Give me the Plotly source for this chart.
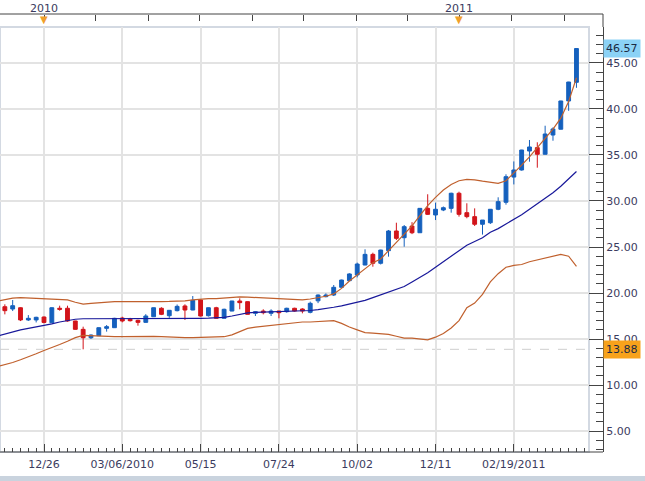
import pandas as pd
import plotly.graph_objects as go

# ---------------- data (weekly candles) ----------------
first_week = "2009-11-21"
opens = [18.51, 18.26, 18.40, 17.07, 17.07, 17.39, 16.77, 18.34, 18.34, 16.96,
         16.05, 15.14, 15.36, 16.16, 16.23, 17.28, 17.14, 17.03, 16.81, 17.42,
         18.34, 17.53, 18.08, 18.59, 18.15, 19.24, 17.53, 18.40, 17.25, 18.04,
         19.13, 19.06, 17.79, 18.04, 17.79, 18.04, 17.97, 18.34, 18.26, 17.90,
         19.15, 19.60, 19.78, 20.62, 21.34, 21.96, 23.04, 24.20, 23.23, 24.60,
         26.74, 26.01, 27.28, 26.55, 29.20, 28.48, 29.02, 29.20, 30.84, 28.73,
         28.30, 27.47, 27.64, 29.10, 29.86, 32.60, 33.37, 35.43, 35.80, 35.08,
         37.17, 37.80, 40.87, 42.90]
highs = [18.77, 19.24, 18.45, 17.60, 17.42, 17.45, 18.45, 18.62, 18.62, 16.98,
         16.34, 15.50, 16.26, 16.52, 17.30, 17.42, 17.30, 17.10, 17.70, 18.42,
         18.45, 18.15, 18.75, 18.77, 19.67, 19.35, 18.42, 18.50, 18.30, 19.15,
         19.42, 19.08, 18.04, 18.23, 18.23, 18.06, 18.40, 18.40, 18.34, 19.06,
         19.85, 19.96, 20.87, 21.45, 22.15, 23.30, 24.75, 24.38, 24.70, 26.85,
         27.64, 27.39, 27.70, 29.22, 30.73, 29.82, 29.40, 30.90, 31.01, 29.75,
         29.20, 27.93, 29.12, 30.40, 32.90, 34.30, 35.56, 36.63, 36.38, 38.18,
         38.00, 40.89, 42.95, 46.57]
lows = [17.68, 18.04, 16.95, 16.96, 16.80, 16.70, 16.72, 18.08, 16.88, 16.02,
        13.88, 15.00, 15.34, 15.80, 16.21, 16.81, 16.90, 16.45, 16.79, 17.40,
        17.60, 17.30, 18.00, 17.07, 18.13, 17.45, 17.45, 17.23, 17.23, 18.02,
        18.23, 17.66, 17.50, 17.68, 17.50, 17.25, 17.86, 17.97, 17.79, 17.79,
        18.90, 19.53, 19.67, 20.60, 21.30, 21.70, 23.02, 22.86, 23.10, 23.95,
        25.76, 25.03, 26.40, 26.53, 28.48, 27.93, 28.90, 28.73, 28.30, 28.12,
        27.28, 26.35, 27.50, 29.00, 29.60, 31.80, 33.30, 34.27, 33.62, 35.06,
        36.55, 37.78, 39.80, 42.30]
closes = [18.08, 18.62, 17.07, 17.25, 17.36, 16.80, 18.40, 18.23, 16.96, 16.05,
          15.14, 15.43, 16.23, 16.34, 17.25, 16.96, 16.99, 16.81, 17.50, 18.40,
          17.68, 18.12, 18.55, 18.15, 19.20, 17.50, 18.40, 17.25, 18.23, 19.13,
          18.95, 17.68, 17.97, 17.86, 18.04, 17.86, 18.34, 18.04, 18.04, 18.88,
          19.78, 19.78, 20.62, 21.41, 22.07, 23.15, 24.20, 23.23, 24.67, 26.74,
          25.94, 27.21, 26.55, 29.20, 28.55, 29.10, 29.27, 30.84, 28.55, 28.30,
          27.47, 27.93, 29.10, 29.93, 32.64, 33.37, 35.54, 35.87, 35.08, 37.28,
          37.83, 40.87, 42.93, 46.57]

# ---------------- Bollinger bands ----------------
band_first_week = "2009-11-14"
upper_band = [19.10, 19.30, 19.45, 19.50, 19.45, 19.40, 19.35, 19.30, 19.28, 19.25,
              19.00, 18.80, 18.88, 18.95, 19.05, 19.06, 19.06, 19.05, 19.05, 19.05,
              19.06, 19.07, 19.08, 19.10, 19.15, 19.25, 19.35, 19.38, 19.40, 19.45,
              19.55, 19.58, 19.55, 19.50, 19.45, 19.40, 19.35, 19.30, 19.25, 19.25,
              19.35, 19.50, 19.65, 19.90, 20.50, 21.30, 22.00, 22.70, 23.30, 23.70,
              24.60, 25.40, 26.30, 27.30, 28.40, 29.50, 30.40, 31.20, 31.80, 32.20,
              32.35, 32.30, 32.15, 32.00, 31.92, 32.20, 33.00, 33.90, 34.80, 35.80,
              36.80, 37.80, 39.00, 40.80, 43.40]
middle_band = [15.30, 15.55, 15.80, 16.00, 16.15, 16.30, 16.45, 16.65, 16.85, 17.00,
               17.15, 17.20, 17.20, 17.20, 17.18, 17.17, 17.17, 17.18, 17.18, 17.20,
               17.20, 17.22, 17.22, 17.23, 17.24, 17.25, 17.25, 17.27, 17.30, 17.35,
               17.50, 17.70, 17.85, 17.90, 17.92, 17.95, 17.95, 17.97, 18.00, 18.05,
               18.10, 18.20, 18.30, 18.45, 18.60, 18.80, 19.00, 19.20, 19.50, 19.80,
               20.10, 20.35, 20.70, 21.20, 21.70, 22.20, 22.80, 23.40, 24.00, 24.60,
               25.20, 25.60, 26.00, 26.60, 27.00, 27.50, 28.00, 28.50, 29.10, 29.70,
               30.30, 30.90, 31.60, 32.40, 33.20]
lower_band = [12.00, 12.20, 12.45, 12.75, 13.05, 13.40, 13.75, 14.05, 14.40, 14.75,
              15.15, 15.40, 15.35, 15.30, 15.28, 15.27, 15.27, 15.28, 15.30, 15.30,
              15.28, 15.25, 15.20, 15.16, 15.14, 15.16, 15.20, 15.20, 15.20, 15.25,
              15.45, 15.80, 16.15, 16.30, 16.40, 16.50, 16.55, 16.65, 16.75, 16.85,
              16.85, 16.90, 17.00, 17.00, 16.70, 16.30, 16.00, 15.70, 15.65, 15.60,
              15.50, 15.30, 15.10, 15.10, 15.00, 14.90, 15.20, 15.60, 16.20, 17.00,
              18.40, 18.90, 19.85, 21.20, 22.10, 22.80, 23.00, 23.10, 23.40, 23.60,
              23.80, 24.00, 24.20, 24.00, 22.90]

# ---------------- axis labels ----------------
bottom_tick_dates = ["2009-12-26", "2010-03-06", "2010-05-15", "2010-07-24",
                     "2010-10-02", "2010-12-11", "2011-02-19"]
bottom_tick_text = ["12/26", "03/06/2010", "05/15", "07/24", "10/02", "12/11", "02/19/2011"]
year_tick_dates = ["2009-12-26", "2011-01-01"]
year_tick_text = ["2010", "2011"]
top_minor_dates = ["2010-02-10", "2010-03-29", "2010-05-14", "2010-06-30", "2010-08-15",
                   "2010-10-01", "2010-11-16", "2011-02-17", "2011-04-05"]

dates = pd.date_range(first_week, periods=len(opens), freq="7D")
band_dates = pd.date_range(band_first_week, periods=len(upper_band), freq="7D")

BLUE = "#1560bd"
RED = "#d2141a"
BAND = "#c0602d"
MID = "#18189a"
TXT = "#3b3b5e"
AX = "#444444"
FONT = "DejaVu Sans"
x_range = ["2009-11-16 16:00", "2011-04-27 05:00"]
y_range = [2.72, 48.91]

fig = go.Figure()
fig.add_trace(go.Scatter(x=band_dates, y=upper_band, mode="lines",
                         line=dict(color=BAND, width=1.2), hoverinfo="skip"))
fig.add_trace(go.Scatter(x=band_dates, y=lower_band, mode="lines",
                         line=dict(color=BAND, width=1.2), hoverinfo="skip"))
fig.add_trace(go.Scatter(x=band_dates, y=middle_band, mode="lines",
                         line=dict(color=MID, width=1.2), hoverinfo="skip"))
fig.add_trace(go.Candlestick(
    x=dates, open=opens, high=highs, low=lows, close=closes,
    increasing=dict(line=dict(color=BLUE, width=1), fillcolor=BLUE),
    decreasing=dict(line=dict(color=RED, width=1), fillcolor=RED),
    whiskerwidth=0,
))
# invisible trace so the top (year) axis is drawn
fig.add_trace(go.Scatter(x=[dates[0]], y=[None], xaxis="x2", yaxis="y",
                         mode="markers", hoverinfo="skip", showlegend=False))

last_close = closes[-1]
lowest = min(lows)

fig.update_layout(
    width=645, height=481,
    template="none",
    showlegend=False,
    paper_bgcolor="white",
    plot_bgcolor="white",
    margin=dict(l=0, r=42, t=14, b=29, pad=0),
    font=dict(family=FONT, size=11, color=TXT),
    xaxis=dict(
        type="date", range=x_range, domain=[0, 589 / 603],
        rangeslider=dict(visible=False),
        tickmode="array", tickvals=bottom_tick_dates, ticktext=bottom_tick_text,
        showgrid=True, gridcolor="#e3e3e3", gridwidth=1.5,
        ticks="inside", ticklen=8, tickcolor=AX, tickwidth=1,
        minor=dict(dtick=7 * 86400000, tick0="2009-12-26", ticks="inside",
                   ticklen=4, tickcolor=AX, showgrid=False),
        showline=False, zeroline=False, automargin=False,
        ticklabelstandoff=4,
        tickfont=dict(family=FONT, size=11, color=TXT),
    ),
    xaxis2=dict(
        type="date", range=x_range, overlaying="x", side="top",
        anchor="free", position=1,
        tickmode="array", tickvals=year_tick_dates, ticktext=year_tick_text,
        ticks="inside", ticklen=6, tickcolor=AX,
        minor=dict(tickmode="array", tickvals=top_minor_dates, ticks="inside",
                   ticklen=6, tickcolor=AX, showgrid=False),
        showgrid=False, showline=False, zeroline=False, automargin=False,
        tickfont=dict(family=FONT, size=11, color=TXT),
    ),
    yaxis=dict(
        range=y_range, domain=[0, 425 / 438], side="right",
        anchor="free", position=1,
        tickmode="linear", tick0=0, dtick=5, tickformat=".2f",
        showgrid=True, gridcolor="#e3e3e3", gridwidth=1.5,
        ticks="inside", ticklen=14, tickcolor=AX,
        minor=dict(dtick=1, ticks="inside", ticklen=7, tickcolor=AX, showgrid=False),
        showline=True, linecolor=AX, linewidth=1,
        zeroline=False, automargin=False,
        tickfont=dict(family=FONT, size=11, color=TXT),
    ),
    shapes=[
        dict(type="rect", xref="x domain", yref="y domain", x0=0, x1=1, y0=0, y1=1,
             line=dict(color="#d3d9e2", width=2), layer="below"),
        dict(type="line", xref="x domain", yref="y", x0=0, x1=1, y0=lowest, y1=lowest,
             line=dict(color="#cfcfcf", width=1, dash="dash"), layer="below"),
        dict(type="line", xref="paper", yref="paper", x0=0, x1=1, y0=1, y1=1,
             line=dict(color=AX, width=1)),
        dict(type="line", xref="paper", yref="paper", x0=0, x1=1, y0=0, y1=0,
             line=dict(color=AX, width=1)),
        dict(type="line", xref="paper", yref="paper", x0=1, x1=1, y0=425 / 438, y1=1,
             line=dict(color=AX, width=1)),
        dict(type="rect", xref="paper", yref="paper", x0=-0.01, x1=1.08,
             y0=-0.08, y1=-0.0548, line=dict(width=0), fillcolor="#c9d3de"),
    ],
    annotations=[
        dict(text="▼", xref="x", yref="paper", x=d, y=1.004, yanchor="top",
             showarrow=False, font=dict(size=10, color="#f0a02a", family=FONT))
        for d in year_tick_dates
    ] + [
        dict(text=f"{last_close:.2f}", xref="paper", yref="y", x=1, y=last_close,
             xanchor="left", yanchor="middle", showarrow=False, xshift=0,
             bgcolor="#8bd2f6", borderpad=2,
             font=dict(size=11, color="#1b2a44", family=FONT)),
        dict(text=f"{lowest:.2f}", xref="paper", yref="y", x=1, y=lowest,
             xanchor="left", yanchor="middle", showarrow=False, xshift=0,
             bgcolor="#f7a21b", borderpad=2,
             font=dict(size=11, color="#1b2a44", family=FONT)),
    ],
)

fig.write_html("out.html", config={"displayModeBar": False},
               post_script="document.body.style.margin='0';")
